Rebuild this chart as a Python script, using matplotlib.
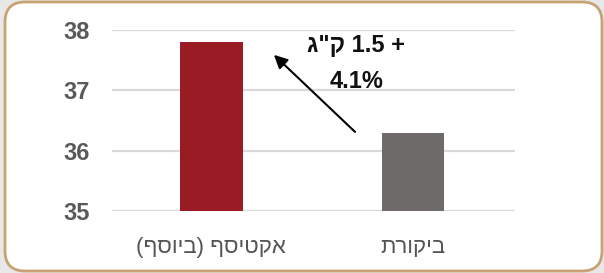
import matplotlib.pyplot as plt
from matplotlib.patches import FancyBboxPatch

# values
groups = ["(ףסויב) ףסיטקא", "תרוקיב"]  # visual order (reversed for LTR drawing)
weights = [37.8, 36.3]
bar_colors = ["#9b1b24", "#706b6b"]
y_ticks = [35, 36, 37, 38]
gain_label = 'ג"ק 1.5 +'
pct_label = "4.1%"

plt.rcParams["font.family"] = ["Liberation Sans", "DejaVu Sans"]

fig = plt.figure(figsize=(6.04, 2.73), dpi=100, facecolor="#e8e8e8")

# white rounded panel with tan border
panel = FancyBboxPatch((5, 2), 597, 269, boxstyle="round,pad=0,rounding_size=20",
                       transform=None, facecolor="white", edgecolor="#c9a274",
                       linewidth=2, zorder=-1)
fig.patches.append(panel)

ax = fig.add_axes([0.185, 0.227, 0.668, 0.663])
ax.set_zorder(1)
ax.set_facecolor("none")

x = range(len(groups))
ax.bar(x, [w - 35 for w in weights], bottom=35, width=0.31, color=bar_colors, zorder=3)

ax.set_xlim(-0.494, 1.506)
ax.set_ylim(35, 38)
ax.set_yticks(y_ticks)
ax.set_yticklabels([str(t) for t in y_ticks], fontsize=17, color="#595959", fontweight="bold")
ax.set_xticks(list(x))
ax.set_xticklabels(groups, fontsize=16, color="#555555")
ax.tick_params(length=0)
ax.tick_params(axis="y", pad=16)
ax.tick_params(axis="x", pad=19)
ax.grid(axis="y", color="#d9d9d9", linewidth=1.6, zorder=0)
for s in ax.spines.values():
    s.set_visible(False)

ax.annotate("", xy=(0.30, 37.62), xytext=(0.722, 36.28),
            arrowprops=dict(arrowstyle="-|>,head_length=0.8,head_width=0.4",
                            color="black", lw=1.5), annotation_clip=False, zorder=5)
ax.text(0.718, 37.75, gain_label, ha="center", va="center", fontsize=17,
        fontweight="bold", color="#111111", zorder=6)
ax.text(0.718, 37.15, pct_label, ha="center", va="center", fontsize=17,
        fontweight="bold", color="#111111", zorder=6)

fig.savefig("out.png", dpi=100, facecolor=fig.get_facecolor())
